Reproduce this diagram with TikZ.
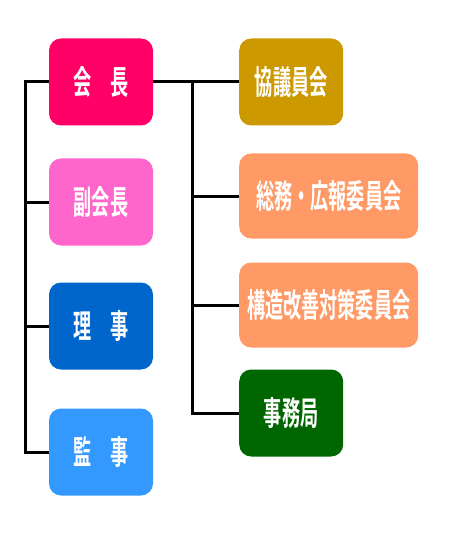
\documentclass[tikz,border=0pt]{standalone}
\usepackage{fontspec}
\newfontfamily\cjk{Noto Sans CJK JP}[BoldFont={Noto Sans CJK JP Bold}, FakeStretch=0.55]
\definecolor{cKaicho}{HTML}{FF0066}
\definecolor{cFuku}{HTML}{FF66CC}
\definecolor{cRiji}{HTML}{0066CC}
\definecolor{cKanji}{HTML}{3399FF}
\definecolor{cKyogi}{HTML}{CC9900}
\definecolor{cIin}{HTML}{FF9966}
\definecolor{cJimu}{HTML}{006600}
\tikzset{
  orgbox/.style={rounded corners=12pt, minimum height=87pt, text=white,
    font=\cjk\bfseries\fontsize{33}{36}\selectfont, inner sep=0pt},
  narrow/.style={orgbox, minimum width=104pt},
  wide/.style={orgbox, minimum width=179pt},
  link/.style={line width=3pt, black}
}
\begin{document}
\begin{tikzpicture}[x=1pt,y=-1pt]
\useasboundingbox (0,0) rectangle (450,540);
\node[narrow, fill=cKaicho] (kaicho) at (101,82) {会　長};
\node[narrow, fill=cFuku] (fuku) at (101,202) {副会長};
\node[narrow, fill=cRiji] (riji) at (101,326) {理　事};
\node[narrow, fill=cKanji] (kanji) at (101,452) {監　事};
\node[narrow, fill=cKyogi, anchor=west] (kyogi) at (239,82) {協議員会};
\node[wide, fill=cIin, anchor=west, minimum height=85pt] (somu) at (239,196) {総務・広報委員会};
\node[wide, fill=cIin, anchor=west, minimum height=85pt] (kozo) at (239,305) {構造改善対策委員会};
\node[narrow, fill=cJimu, anchor=west] (jimu) at (239,413) {事務局};
\coordinate (lbus) at (25,0);
\coordinate (rbus) at (192,0);
\draw[link] (kaicho.west) -- (kaicho.west -| lbus) |- (kanji.west);
\draw[link] (fuku.west) -- (fuku.west -| lbus);
\draw[link] (riji.west) -- (riji.west -| lbus);
\draw[link] (kaicho.east) -- (kyogi.west);
\draw[link] (kaicho.east -| rbus) |- (jimu.west);
\draw[link] (somu.west) -- (somu.west -| rbus);
\draw[link] (kozo.west) -- (kozo.west -| rbus);
\end{tikzpicture}
\end{document}
